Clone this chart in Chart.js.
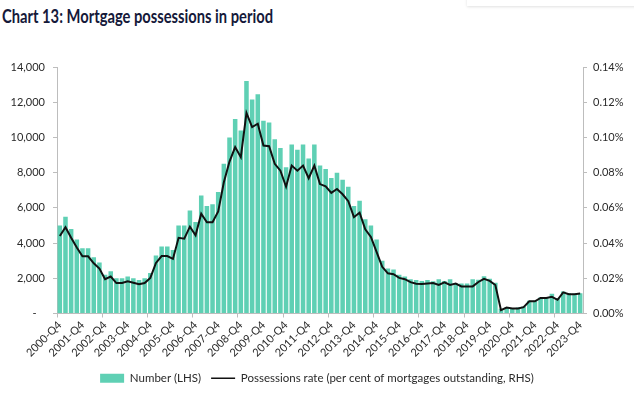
<!DOCTYPE html>
<html>
<head>
<meta charset="utf-8">
<script src="https://cdn.jsdelivr.net/npm/chart.js@4/dist/chart.umd.min.js"></script>
<style>
  body { margin: 0; background: #fff; }
  #wrap { position: relative; width: 634px; height: 395px; overflow: hidden; }
  #title {
    position: absolute; left: 2px; top: 5px;
    font-family: 'Lato', sans-serif; font-weight: bold; font-size: 18px;
    color: #15193a; white-space: nowrap; transform-origin: left top;
  }
  #shade {
    position: absolute; left: 467px; top: -4px; width: 180px; height: 10px;
    box-shadow: 0 1px 3px rgba(0,0,0,0.12);
  }
  #gameChart { position: absolute; left: 0; top: 0; }
</style>
</head>
<body>
<div id="wrap">
  <div id="shade"></div>
  <div id="title">Chart 13: Mortgage possessions in period</div>
  <canvas id="gameChart" width="634" height="395"></canvas>
</div>
<script>
// quarters from 2000-Q4 to 2023-Q4
let firstYear = 2000;
let lastYear = 2023;
let quarters = [];
for (let y = firstYear; y <= lastYear; y++) {
    for (let q = 1; q <= 4; q++) {
        if (y === firstYear && q < 4) continue;
        quarters.push(y + '-Q' + q);
    }
}

// Number of possessions (LHS)
let possessions = [
    5000, 5500, 4800, 4200, 3700, 3700, 3200, 2900,
    2200, 2400, 2000, 2000, 2100, 2000, 1900, 2000,
    2300, 3300, 3800, 3800, 3600, 5000, 5000, 5850,
    5200, 6700, 6100, 6200, 6900, 8500, 10000, 11050,
    10400, 13200, 12150, 12450, 10950, 10850, 9900, 9400,
    8300, 9600, 9300, 9600, 8800, 9600, 8400, 8200,
    7700, 8000, 7600, 7200, 6100, 6400, 5350, 5000,
    4200, 3000, 2550, 2500, 2200, 2100, 1950, 1900,
    1850, 1900, 1830, 1950, 1850, 1950, 1700, 1700,
    1700, 1950, 1920, 2120, 1980, 1750, 270, 340,
    300, 340, 400, 720, 720, 910, 910, 1120,
    880, 1250, 1150, 1120, 1150
];

// Possessions rate, per cent of mortgages outstanding (RHS)
let rate = [
    0.044, 0.049, 0.043, 0.0375, 0.0325, 0.0325, 0.0285, 0.0255,
    0.0195, 0.021, 0.0173, 0.0173, 0.0183, 0.0175, 0.0166, 0.0173,
    0.0202, 0.0287, 0.0326, 0.0326, 0.031, 0.043, 0.0425, 0.0493,
    0.0444, 0.0567, 0.0518, 0.0518, 0.058, 0.0745, 0.0863, 0.0945,
    0.0888, 0.1139, 0.1059, 0.1078, 0.0954, 0.095, 0.085, 0.0811,
    0.072, 0.084, 0.0811, 0.084, 0.0768, 0.084, 0.0735, 0.0722,
    0.0685, 0.0707, 0.0677, 0.0638, 0.0547, 0.0573, 0.0478, 0.0435,
    0.035, 0.0265, 0.0228, 0.0223, 0.0202, 0.0195, 0.0178, 0.0169,
    0.0168, 0.0171, 0.0173, 0.0162, 0.0177, 0.0162, 0.017, 0.0154,
    0.0154, 0.0154, 0.0179, 0.0197, 0.0185, 0.0162, 0.0019, 0.0034,
    0.0029, 0.0029, 0.0036, 0.0069, 0.0069, 0.0088, 0.0088, 0.0095,
    0.0078, 0.012, 0.011, 0.011, 0.0113
];

let barLabel = 'Number (LHS)';
let lineLabel = 'Possessions rate (per cent of mortgages outstanding, RHS)';

let barColor = '#5fd0b4';
let lineColor = '#111111';
let axisColor = '#bdbdbd';
let textColor = '#2a2a2a';

// squeeze the title to the width it has in the picture
let title = document.getElementById('title');
let titleWidth = title.getBoundingClientRect().width;
title.style.transform = 'scaleX(' + (271 / titleWidth) + ')';

Chart.defaults.font.family = 'Lato, sans-serif';
Chart.defaults.font.size = 11;
Chart.defaults.color = textColor;

let ctx = document.getElementById('gameChart').getContext('2d');

let possessionsChart = new Chart(ctx, {
    data: {
        labels: quarters,
        datasets: [
            {
                type: 'line',
                label: lineLabel,
                data: rate,
                yAxisID: 'y1',
                borderColor: lineColor,
                borderWidth: 2,
                pointRadius: 0,
                tension: 0,
                order: 0
            },
            {
                type: 'bar',
                label: barLabel,
                data: possessions,
                yAxisID: 'y',
                backgroundColor: barColor,
                barPercentage: 0.8,
                categoryPercentage: 1.0,
                order: 1
            }
        ]
    },
    options: {
        responsive: false,
        animation: false,
        layout: { padding: { top: 67, left: 0, right: 0, bottom: 1 } },
        plugins: {
            tooltip: { enabled: false },
            legend: {
                position: 'bottom',
                labels: {
                    usePointStyle: true,
                    pointStyleWidth: 24,
                    boxHeight: 9,
                    padding: 10,
                    color: textColor,
                    font: { size: 11.5 },
                    generateLabels: function(chart) {
                        return [
                            { text: barLabel, fillStyle: barColor, strokeStyle: barColor,
                              lineWidth: 0, pointStyle: 'rect', datasetIndex: 1, fontColor: textColor },
                            { text: lineLabel, fillStyle: lineColor, strokeStyle: lineColor,
                              lineWidth: 1.5, pointStyle: 'line', datasetIndex: 0, fontColor: textColor }
                        ];
                    }
                }
            }
        },
        scales: {
            x: {
                afterFit: function(scale) { scale.height = 49; },
                grid: {
                    drawOnChartArea: false,
                    tickLength: 4,
                    color: function(c) { return c.index % 8 === 0 ? axisColor : 'rgba(0,0,0,0)'; }
                },
                border: { color: axisColor },
                ticks: {
                    autoSkip: false,
                    minRotation: 45,
                    maxRotation: 45,
                    padding: 1,
                    font: { size: 11 },
                    callback: function(value, index) {
                        let lab = this.getLabelForValue(value);
                        return lab.endsWith('Q4') ? lab : '';
                    }
                }
            },
            y: {
                position: 'left',
                min: 0,
                max: 14000,
                afterFit: function(scale) { scale.width = 57; },
                grid: { drawOnChartArea: false, tickLength: 4, color: axisColor },
                border: { color: axisColor },
                ticks: {
                    stepSize: 2000,
                    padding: 8,
                    callback: function(v) { return v === 0 ? '-   ' : v.toLocaleString('en-GB'); }
                }
            },
            y1: {
                position: 'right',
                min: 0,
                max: 0.14,
                afterFit: function(scale) { scale.width = 51; },
                grid: { drawOnChartArea: false, tickLength: 4, color: axisColor },
                border: { color: axisColor },
                ticks: {
                    stepSize: 0.02,
                    padding: 6,
                    callback: function(v) { return v.toFixed(2) + '%'; }
                }
            }
        }
    }
});
</script>
</body>
</html>
